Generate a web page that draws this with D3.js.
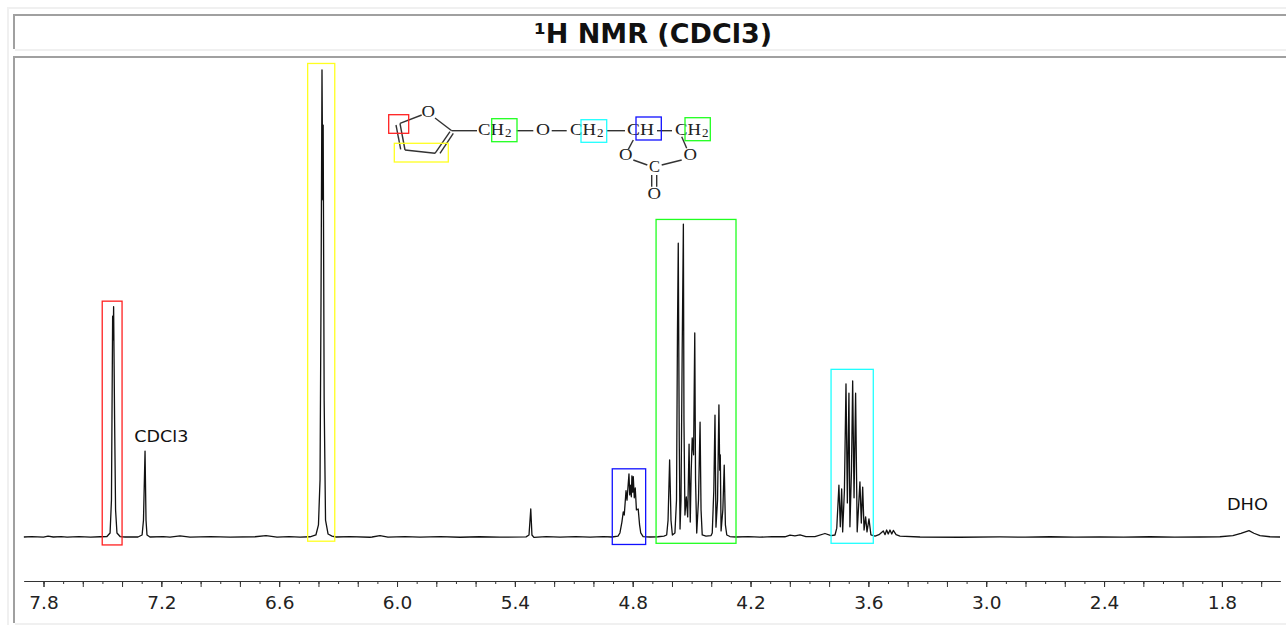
<!DOCTYPE html>
<html>
<head>
<meta charset="utf-8">
<title>1H NMR (CDCl3)</title>
<script src="https://cdn.jsdelivr.net/npm/d3@7"></script>
<style>
	html, body { margin: 0; padding: 0; background: #fff; }
	svg { display: block; }
	.title { font: bold 27px "DejaVu Sans"; fill: #111; text-anchor: middle; }
	.tick-labels text { font: 18.5px "DejaVu Sans"; fill: #222; }
	.solvent { font: 15.5px "DejaVu Sans"; fill: #111; }
	.atom { font: 17px "Liberation Serif"; fill: #222; }
	.bond { stroke: #333; stroke-width: 1.4; fill: none; }
</style>
</head>
<body>
<svg id="chart" width="1286" height="625"></svg>
<script>
// spectrum, [ppm, intensity] with the tallest peak = 100
var baselineLow = [[7.90,0],[7.86,0.08],[7.80,-0.03],[7.777,0.2],[7.75,0],[7.71,0.08],[7.68,-0.03],[7.62,0.08],[7.56,-0.03],[7.512,0.05]];
var furanH5 = [[7.477,0.1],[7.461,0.86],[7.454,7.9],[7.448,47.3],[7.445,42.2],[7.443,49.3],[7.438,25.1],[7.433,5.8],[7.426,0.86],[7.41,0.1],[7.385,0]];
var solventPeak = [[7.319,0],[7.298,0.43],[7.291,3.6],[7.283,18.4],[7.278,3.6],[7.273,0.43],[7.258,0]];
var baselineA = [[7.19,0.06],[7.156,-0.03],[7.105,0.22],[7.054,-0.03],[6.95,0.06],[6.85,-0.03],[6.723,0.05],[6.667,0.3],[6.611,-0.03],[6.55,0.06],[6.494,-0.03],[6.443,0.05]];
var furanH34 = [[6.413,0.43],[6.4,2.6],[6.392,12.2],[6.387,50.7],[6.382,100],[6.378,72.2],[6.376,88.2],[6.371,29.3],[6.364,3.6],[6.351,0.64],[6.331,0.2],[6.31,0]];
var baselineB = [[6.239,0.06],[6.138,-0.05],[6.127,0],[6.087,0.3],[6.046,-0.03],[5.96,0.06],[5.883,-0.03],[5.78,0.06],[5.679,-0.05],[5.58,0.05],[5.476,-0.03],[5.343,0.03]];
var impurity = [[5.328,0.43],[5.319,6],[5.313,0.43],[5.303,-0.1]];
var baselineC = [[5.24,0.06],[5.17,-0.03],[5.09,0.06],[5.017,-0.03],[4.95,0.06],[4.905,0]];
var methine = [[4.875,0.2],[4.865,0.86],[4.855,3.2],[4.848,5.4],[4.843,4.7],[4.834,9.9],[4.829,7.9],[4.819,13.5],[4.815,9],[4.81,11.1],[4.807,8.6],[4.804,13.1],[4.8,9.6],[4.797,12.9],[4.792,8.4],[4.787,10.5],[4.781,5.8],[4.772,6],[4.765,2.6],[4.759,0.86],[4.747,0.1],[4.712,0]];
var methylene = [[4.671,0.05],[4.641,0.2],[4.627,0.43],[4.62,3.6],[4.612,16.5],[4.605,3.6],[4.598,0.43],[4.585,0.86],[4.577,7.9],[4.572,44.3],[4.568,62.9],[4.563,20.8],[4.559,1.7],[4.554,7.9],[4.548,40],[4.542,67],[4.539,25],[4.534,4.7],[4.527,8.6],[4.52,4.3],[4.513,19.9],[4.507,3.2],[4.502,14.3],[4.497,21.2],[4.49,17.6],[4.484,43.7],[4.48,12.2],[4.474,0.86],[4.465,7.9],[4.457,24.6],[4.452,5.8],[4.446,0.43],[4.427,0.2],[4.401,0.3],[4.395,0.86],[4.387,10],[4.381,26.1],[4.376,2.1],[4.368,7.9],[4.361,28.3],[4.357,14.3],[4.354,17.6],[4.35,1.3],[4.341,5.8],[4.334,15.4],[4.328,2.6],[4.321,0.43],[4.305,0.1],[4.274,0]];
var baselineD = [[4.21,0.06],[4.152,-0.03],[4.09,0.06],[4.025,0.05],[3.999,0.4],[3.974,0.25],[3.948,0.45],[3.918,0.1],[3.872,0.1],[3.821,0.75],[3.79,0.3]];
var etherCh2 = [[3.77,0.43],[3.761,1.9],[3.755,6.9],[3.75,11.1],[3.743,2.2],[3.736,10.3],[3.731,1.1],[3.722,10],[3.714,32.8],[3.707,7.3],[3.699,30.8],[3.694,2.2],[3.686,14.3],[3.68,33.4],[3.673,8.4],[3.665,30.8],[3.657,1.1],[3.643,11.8],[3.636,3],[3.629,10.7],[3.622,1.5],[3.614,4.3],[3.607,1.1],[3.597,3.9],[3.587,0.43]];
var smallMultiplet = [[3.566,0.2],[3.546,0.5],[3.524,1.3],[3.515,0.5],[3.507,1.5],[3.499,0.64],[3.49,1.5],[3.481,0.64],[3.473,1.4],[3.459,0.5],[3.439,0.2],[3.337,0]];
var baselineE = [[3.134,-0.05],[2.93,0.03],[2.8,-0.03],[2.675,0.05],[2.55,-0.03],[2.421,0.04],[2.3,-0.03],[2.166,0.05],[2.04,-0.03],[1.912,0]];
var dhoPeak = [[1.81,0.05],[1.744,0.3],[1.703,0.8],[1.662,1.35],[1.637,0.8],[1.606,0.3],[1.555,0.05],[1.504,0]];

var spectrum = [].concat(baselineLow, furanH5, solventPeak, baselineA, furanH34, baselineB, impurity,
	baselineC, methine, methylene, baselineD, etherCh2, smallMultiplet, baselineE, dhoPeak);

var labelTicks = [7.8, 7.2, 6.6, 6.0, 5.4, 4.8, 4.2, 3.6, 3.0, 2.4, 1.8];
var solventLabels = [["CDCl3", 7.2, 20.3], ["DHO", 1.67, 5.8]];

// boxes around each multiplet: ppm from/to, intensity from/to
var regionNames = ["furan5", "furan34", "methine", "methylene", "ether"];
var regionPpm = [[7.501, 7.400], [6.455, 6.317], [4.904, 4.734], [4.681, 4.274], [3.790, 3.575]];
var regionIntensity = [[-1.7, 50.5], [-0.9, 101.4], [-1.6, 14.6], [-1.35, 68], [-1.35, 35.9]];
var regionColor = d3.scaleOrdinal(regionNames, ["#ff2020", "#ffff20", "#1010ff", "#20ff20", "#20ffff"]);

var svg = d3.select("#chart");

var x = d3.scaleLinear().domain([7.8, 1.8]).range([43.5, 1221.9]);
var y = d3.scaleLinear().domain([0, 100]).range([537, 70]);

// page frames
var lightFrames = [[7, 7, 1279, 2], [7, 7, 2, 618], [15, 49, 1271, 2], [15, 623, 1271, 2]];
var grayFrames = [[13, 14, 1273, 2], [13, 14, 2, 35], [13, 56, 1273, 2], [13, 56, 2, 567]];

function drawFrames(list, color) {
	svg.append("g").selectAll("rect").data(list).join("rect")
		.attr("x", function(d) { return d[0]; })
		.attr("y", function(d) { return d[1]; })
		.attr("width", function(d) { return d[2]; })
		.attr("height", function(d) { return d[3]; })
		.attr("fill", color);
}
drawFrames(lightFrames, "#f0f0f0");
drawFrames(grayFrames, "#a0a0a0");

svg.append("text").attr("class", "title")
	.attr("x", 653).attr("y", 43)
	.text("\u00b9H NMR (CDCl3)");

// trace
var line = d3.line()
	.x(function(d) { return x(d[0]); })
	.y(function(d) { return y(d[1]); });

svg.append("path")
	.datum(spectrum)
	.attr("d", line)
	.attr("fill", "none")
	.attr("stroke", "#111")
	.attr("stroke-width", 1.3)
	.attr("stroke-linejoin", "round");

// multiplet boxes
svg.append("g").selectAll("rect").data(regionNames).join("rect")
	.attr("x", function(d, i) { return x(regionPpm[i][0]); })
	.attr("y", function(d, i) { return y(regionIntensity[i][1]); })
	.attr("width", function(d, i) { return x(regionPpm[i][1]) - x(regionPpm[i][0]); })
	.attr("height", function(d, i) { return y(regionIntensity[i][0]) - y(regionIntensity[i][1]); })
	.attr("fill", "none")
	.attr("stroke", function(d) { return regionColor(d); })
	.attr("stroke-width", 1.3);

// labels are stretched a bit, the original face is wider than DejaVu
var solventWidths = [54, 41];
svg.append("g").selectAll("text").data(solventLabels).join("text")
	.attr("class", "solvent")
	.attr("x", function(d, i) { return x(d[1]) - solventWidths[i] / 2; })
	.attr("y", function(d) { return y(d[2]); })
	.attr("textLength", function(d, i) { return solventWidths[i]; })
	.attr("lengthAdjust", "spacingAndGlyphs")
	.text(function(d) { return d[0]; });

// axis, the domain runs a little past the labelled ticks on both sides
var axisScale = d3.scaleLinear()
	.domain([x.invert(24), x.invert(1280)])
	.range([24, 1280]);

var tenths = d3.range(16, 79).map(function(v) { return v / 10; });
var fifths = tenths.filter(function(v) { return Math.round(v * 10) % 2 === 0; });

function drawAxis(values, size, withLabels) {
	var axis = d3.axisBottom(axisScale)
		.tickValues(values)
		.tickSizeInner(size)
		.tickSizeOuter(0)
		.tickPadding(8.5)
		.tickFormat(withLabels ? d3.format(".1f") : "");
	var g = svg.append("g")
		.attr("class", withLabels ? "tick-labels" : "ticks")
		.attr("transform", "translate(0,581)")
		.call(axis);
	g.selectAll("line").attr("stroke", "#333");
	g.select(".domain").attr("stroke", "#333");
	if (withLabels) {
		g.selectAll("text").attr("font-family", null).attr("font-size", null);
	}
}
drawAxis(tenths, 3, false);
drawAxis(fifths, 6, false);
drawAxis(labelTicks, 6, true);

// structure drawing in the top of the plot
var bonds = [
	[435, 118, 451.7, 130.7], [421.7, 115, 400, 123.3], [400, 123.3, 405, 150], [396, 125, 400.7, 149.3],
	[405, 150, 435, 153.3], [435, 153.3, 450, 131.7], [440, 153.3, 453.3, 133.3], [451.7, 130.7, 477, 130.7],
	[516.7, 130.7, 533.3, 130.7], [551.7, 130.7, 566.7, 130.7], [606.7, 130.7, 625, 130.7], [657, 130.7, 672, 130.7],
	[633.3, 140, 628.3, 149.3], [633.3, 160, 647.3, 165], [661.7, 165, 681.7, 160], [681.7, 136.7, 686.7, 148.3],
	[651.7, 175, 651.7, 186.7], [656.7, 175, 656.7, 186.7]
];
var atoms = [
	["O", 421.5, 117, 13.5], ["CH", 478, 135, 26, "2"], ["O", 536, 135, 14], ["CH", 570, 135, 26, "2"],
	["CH", 627, 135, 27], ["CH", 675, 135, 26, "2"], ["O", 619, 160, 13.5], ["O", 683.5, 160, 13.5],
	["C", 649, 172, 11], ["O", 647.5, 198.5, 13.5]
];
var structureBoxes = [
	["furan5", 388.7, 114.7, 20, 18.6], ["furan34", 394.3, 143.3, 54, 18.7], ["methylene", 491.7, 118.7, 25.3, 23],
	["ether", 581, 119.7, 25.7, 22.6], ["methine", 636, 117, 25.3, 23], ["methylene", 685, 117.7, 25.3, 23]
];

svg.append("g").selectAll("line").data(bonds).join("line")
	.attr("class", "bond")
	.attr("x1", function(d) { return d[0]; })
	.attr("y1", function(d) { return d[1]; })
	.attr("x2", function(d) { return d[2]; })
	.attr("y2", function(d) { return d[3]; });

var atomText = svg.append("g").selectAll("g").data(atoms).join("g");
atomText.append("text")
	.attr("class", "atom")
	.attr("x", function(d) { return d[1]; })
	.attr("y", function(d) { return d[2]; })
	.attr("textLength", function(d) { return d[3]; })
	.attr("lengthAdjust", "spacingAndGlyphs")
	.text(function(d) { return d[0]; });
atomText.filter(function(d) { return d[4]; }).append("text")
	.attr("class", "atom")
	.attr("x", function(d) { return d[1] + d[3] + 1; })
	.attr("y", function(d) { return d[2] + 2; })
	.style("font-size", "13px")
	.text(function(d) { return d[4]; });

svg.append("g").selectAll("rect").data(structureBoxes).join("rect")
	.attr("x", function(d) { return d[1]; })
	.attr("y", function(d) { return d[2]; })
	.attr("width", function(d) { return d[3]; })
	.attr("height", function(d) { return d[4]; })
	.attr("fill", "none")
	.attr("stroke", function(d) { return regionColor(d[0]); })
	.attr("stroke-width", 1.3);
</script>
</body>
</html>
